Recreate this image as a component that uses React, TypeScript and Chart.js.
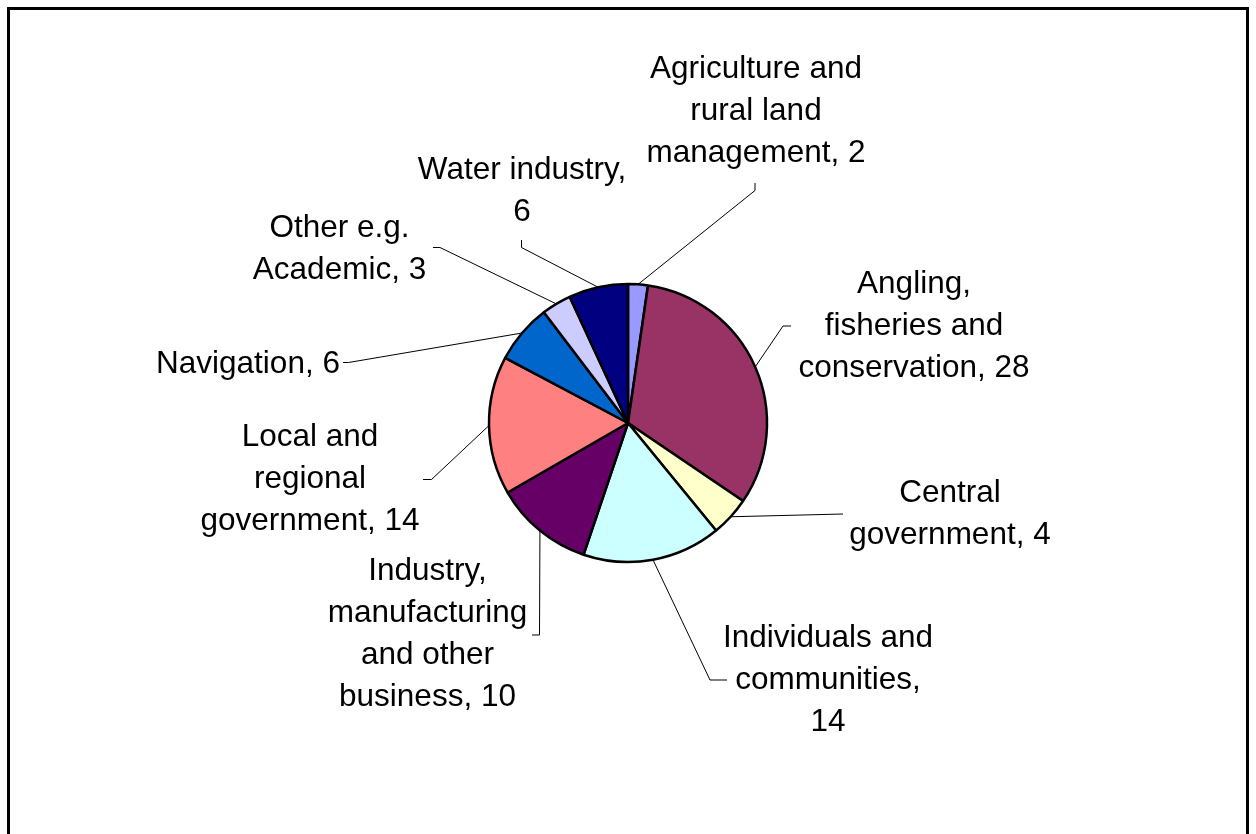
import React, { useEffect, useRef } from "react";
import { Chart, registerables } from "chart.js";

Chart.register(...registerables);

// ---- Data ----
const categories: string[] = [
  "Agriculture and\nrural land\nmanagement",
  "Angling,\nfisheries and\nconservation",
  "Central\ngovernment",
  "Individuals and\ncommunities",
  "Industry,\nmanufacturing\nand other\nbusiness",
  "Local and\nregional\ngovernment",
  "Navigation",
  "Other e.g.\nAcademic",
  "Water industry",
];
const values: number[] = [2, 28, 4, 14, 10, 14, 6, 3, 6];
const valueOnNewLine: boolean[] = [false, false, false, true, false, false, false, false, true];

// ---- Styles ----
const colors: string[] = [
  "#9999FF",
  "#993366",
  "#FFFFCC",
  "#CCFFFF",
  "#660066",
  "#FF8080",
  "#0066CC",
  "#CCCCFF",
  "#000080",
];

// ---- Label layout (design coordinates, relative to design pie centre) ----
const DESIGN_CENTER = { x: 628, y: 423 };
const LABEL_LAYOUT = [
  { x: 756, y: 78, anchor: [755, 183], elbow: [755, 190.5] },
  { x: 914, y: 293, anchor: [791, 326], elbow: [783, 326] },
  { x: 950, y: 502, anchor: [843, 514], elbow: [843, 514] },
  { x: 828, y: 647, anchor: [727, 680], elbow: [710, 680] },
  { x: 427.5, y: 580, anchor: [532, 635], elbow: [539.5, 635] },
  { x: 310, y: 446, anchor: [423, 479.5], elbow: [431.5, 479.5] },
  { x: 248, y: 372.5, anchor: [343, 362.5], elbow: [348.5, 362.5] },
  { x: 339.5, y: 237, anchor: [433, 247.5], elbow: [440, 247.5] },
  { x: 522, y: 178.5, anchor: [521.5, 240], elbow: [521.5, 247.5] },
];
const FONT = '31.5px "Liberation Sans", Arial, sans-serif';
const LINE_HEIGHT = 42;

function labelLines(i: number): string[] {
  const lines = categories[i].split("\n");
  const last = lines.length - 1;
  if (valueOnNewLine[i]) {
    lines[last] = lines[last] + ",";
    lines.push(String(values[i]));
  } else {
    lines[last] = lines[last] + ", " + values[i];
  }
  return lines;
}

const framePlugin = {
  id: "frame",
  beforeDraw(chart: any) {
    const ctx = chart.ctx;
    ctx.save();
    ctx.fillStyle = "#ffffff";
    ctx.fillRect(0, 0, chart.width, chart.height);
    ctx.strokeStyle = "#000000";
    ctx.lineWidth = 3;
    ctx.strokeRect(8.5, 8.5, chart.width - 17, chart.height + 20);
    ctx.restore();
  },
};

const labelPlugin = {
  id: "pieLabels",
  afterDraw(chart: any) {
    const ctx = chart.ctx;
    const meta = chart.getDatasetMeta(0);
    ctx.save();
    ctx.font = FONT;
    ctx.fillStyle = "#000000";
    ctx.textAlign = "center";
    ctx.textBaseline = "alphabetic";
    meta.data.forEach((arc: any, i: number) => {
      const p = arc.getProps(["x", "y", "startAngle", "endAngle", "outerRadius"], true);
      const mid = (p.startAngle + p.endAngle) / 2;
      const ax = p.x + Math.cos(mid) * p.outerRadius;
      const ay = p.y + Math.sin(mid) * p.outerRadius;
      const L = LABEL_LAYOUT[i];
      const ox = p.x - DESIGN_CENTER.x;
      const oy = p.y - DESIGN_CENTER.y;
      // leader line
      ctx.beginPath();
      ctx.strokeStyle = "#000000";
      ctx.lineWidth = 1;
      ctx.moveTo(L.anchor[0] + ox, L.anchor[1] + oy);
      ctx.lineTo(L.elbow[0] + ox, L.elbow[1] + oy);
      ctx.lineTo(ax, ay);
      ctx.stroke();
      // text
      const lines = labelLines(i);
      lines.forEach((t, k) => {
        ctx.fillText(t, L.x + ox, L.y + oy + k * LINE_HEIGHT);
      });
    });
    ctx.restore();
  },
};

export default function App() {
  const canvasRef = useRef<HTMLCanvasElement | null>(null);

  useEffect(() => {
    if (!canvasRef.current) return;
    const chart = new Chart(canvasRef.current, {
      type: "pie",
      data: {
        labels: categories.map((c) => c.replace(/\n/g, " ")),
        datasets: [
          {
            data: values,
            backgroundColor: colors,
            borderColor: "#000000",
            borderWidth: 2.5,
            radius: 139,
          } as any,
        ],
      },
      options: {
        responsive: false,
        maintainAspectRatio: false,
        animation: false,
        radius: 139,
        layout: { padding: { top: 12, bottom: 0, left: 0, right: 0 } },
        plugins: {
          legend: { display: false },
          tooltip: { enabled: false },
        },
      } as any,
      plugins: [framePlugin, labelPlugin],
    });
    return () => chart.destroy();
  }, []);

  return (
    <div style={{ position: "absolute", left: 0, top: 0, width: 1256, height: 834 }}>
      <canvas ref={canvasRef} width={1256} height={834} style={{ width: 1256, height: 834 }} />
    </div>
  );
}
